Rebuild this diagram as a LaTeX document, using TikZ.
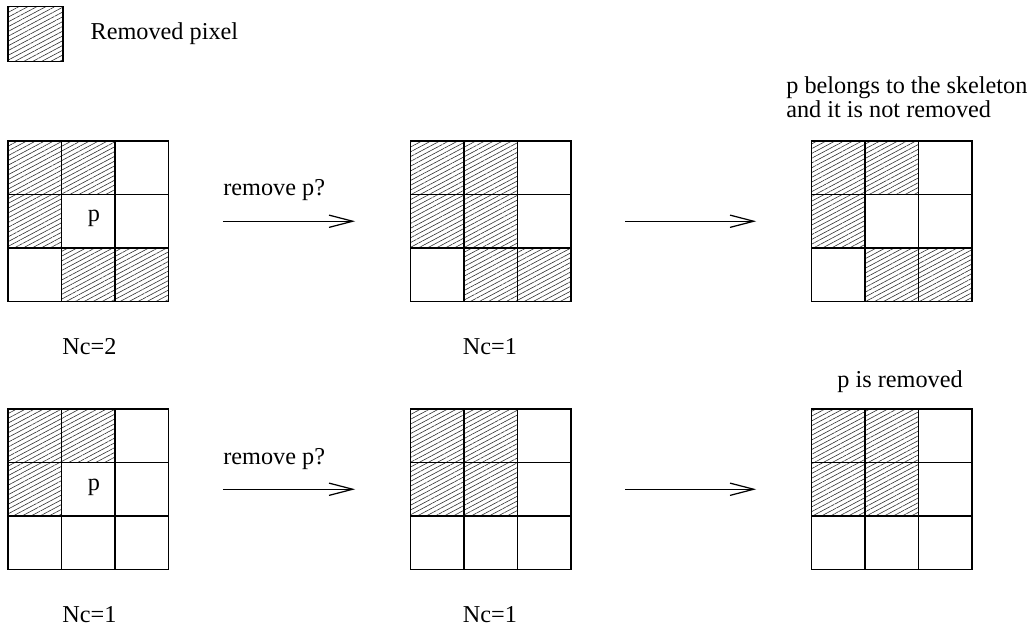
\documentclass[tikz,border=0pt]{standalone}
\usepackage{fontspec}
\setmainfont{Liberation Serif}
\usetikzlibrary{patterns.meta,arrows.meta,positioning}

\tikzset{
  cell/.style={draw,line width=0.6pt},
  removed/.style={pattern={Lines[angle=28,distance=2.4pt,line width=0.35pt]},pattern color=black!80},
  gridbox/.style={minimum size=3.21cm,inner sep=0pt},
  txt/.style={inner sep=0pt,font=\fontsize{13.8}{13.7}\selectfont},
  flow/.style={line width=0.7pt,-{Straight Barb[length=13.5pt,width=7pt]}}
}

% griglia 3x3: nome, x sinistra, y alto, celle rimosse (colonna/riga)
\newcommand{\pixgrid}[4]{%
  \node[gridbox] (#1) at (#2+80.25,#3+80.25) {};
  \foreach \c/\r in {#4}
    \fill[removed] (#2+\c*53.5,#3+\r*53.5) rectangle ++(53.5,53.5);
  \foreach \c in {0,1,2}
    \foreach \r in {0,1,2}
      \draw[cell] (#2+\c*53.5,#3+\r*53.5) rectangle ++(53.5,53.5);
}

\begin{document}
\begin{tikzpicture}[x=0.02cm,y=-0.02cm]
\useasboundingbox (0,0) rectangle (1028,628);

% --- Legenda ---
\node[cell,removed,minimum size=1.1cm,inner sep=0pt] (leg) at (35.5,34) {};
\node[txt,right=0.54cm of leg] (legtxt) {Removed pixel};

% --- Griglie ---
\pixgrid{g11}{8}{141}{0/0,1/0,0/1,1/2,2/2}
\pixgrid{g12}{410.5}{141}{0/0,1/0,0/1,1/1,1/2,2/2}
\pixgrid{g13}{811.5}{141}{0/0,1/0,0/1,1/2,2/2}

\pixgrid{g21}{8}{409}{0/0,1/0,0/1}
\pixgrid{g22}{410.5}{409}{0/0,1/0,0/1,1/1}
\pixgrid{g23}{811.5}{409}{0/0,1/0,0/1,1/1}

\node[txt,anchor=base] (p1) at (94,222) {p};
\node[txt,anchor=base] (p2) at (94,490) {p};

% --- Frecce ---
\draw[flow,shorten <=1.08cm,shorten >=1.1cm] (g11) -- (g12);
\draw[flow,shorten <=1.08cm,shorten >=1.1cm] (g12) -- (g13);
\draw[flow,shorten <=1.08cm,shorten >=1.1cm] (g21) -- (g22);
\draw[flow,shorten <=1.08cm,shorten >=1.1cm] (g22) -- (g23);

% --- Etichette ---
\node[txt,anchor=base west] (q1) at (223,196) {remove p?};
\node[txt,anchor=base west] (q2) at (223,464) {remove p?};

\node[txt,anchor=base] (nc11) at (89.5,355) {Nc=2};
\node[txt,anchor=base] (nc12) at (490,355) {Nc=1};
\node[txt,anchor=base] (nc21) at (89.5,622) {Nc=1};
\node[txt,anchor=base] (nc22) at (490,622) {Nc=1};

\node[txt,anchor=north west,align=left] (skel) at (786,76) {p belongs to the skeleton\\and it is not removed};
\node[txt,anchor=base] (rem) at (900,387) {p is removed};

\end{tikzpicture}
\end{document}
